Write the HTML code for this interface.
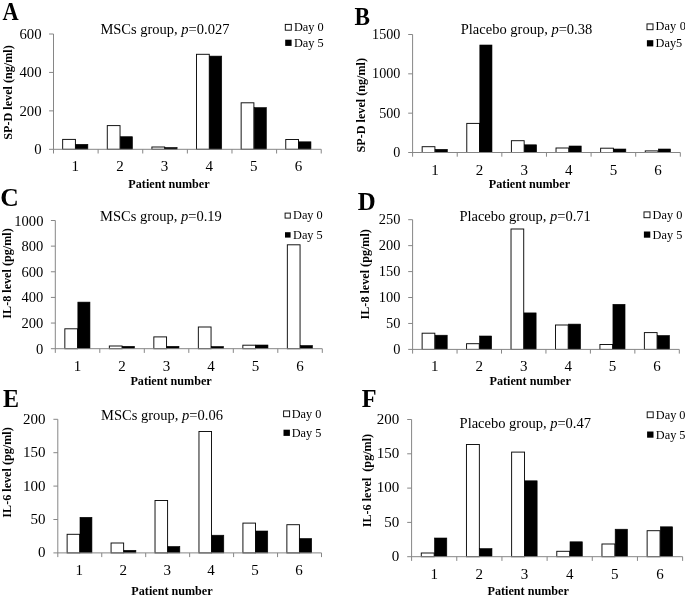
<!DOCTYPE html>
<html lang="en"><head><meta charset="utf-8"><title>Figure</title>
<style>
html,body{margin:0;padding:0;background:#fff;}
body{width:685px;height:598px;overflow:hidden;}
svg{display:block;will-change:transform;}
text{font-family:"Liberation Serif", "Times New Roman", serif;fill:#000;}
.b{font-weight:bold;}
.ax{stroke:#868686;stroke-width:1;fill:none;}
.w{fill:#fff;stroke:#0a0a0a;stroke-width:0.95;}
.k{fill:#000;stroke:#000;stroke-width:0.6;}
</style></head><body>
<svg width="685" height="598" viewBox="0 0 685 598">
<g id="panel-A">
<text transform="translate(41.60 154.30) scale(0.985 1)" font-size="15" text-anchor="end">0</text>
<text transform="translate(41.60 115.87) scale(0.985 1)" font-size="15" text-anchor="end">200</text>
<text transform="translate(41.60 77.43) scale(0.985 1)" font-size="15" text-anchor="end">400</text>
<text transform="translate(41.60 39.00) scale(0.985 1)" font-size="15" text-anchor="end">600</text>
<rect class="w" x="62.66" y="139.40" width="12.75" height="9.90"/><rect class="k" x="75.71" y="144.30" width="12.15" height="5.00"/>
<rect class="w" x="107.28" y="125.60" width="12.75" height="23.70"/><rect class="k" x="120.33" y="136.70" width="12.15" height="12.60"/>
<rect class="w" x="151.90" y="147.00" width="12.75" height="2.30"/><rect class="k" x="164.95" y="147.50" width="12.15" height="1.80"/>
<rect class="w" x="196.52" y="54.30" width="12.75" height="95.00"/><rect class="k" x="209.57" y="56.10" width="12.15" height="93.20"/>
<rect class="w" x="241.14" y="102.80" width="12.75" height="46.50"/><rect class="k" x="254.19" y="107.60" width="12.15" height="41.70"/>
<rect class="w" x="285.76" y="139.50" width="12.75" height="9.80"/><rect class="k" x="298.81" y="141.80" width="12.15" height="7.50"/>
<path class="ax" d="M53.50 34.00V149.30 M49.10 149.30H321.22 M49.10 110.87H53.50 M49.10 72.43H53.50 M49.10 34.00H53.50 M53.50 149.30V153.50 M98.12 149.30V153.50 M142.74 149.30V153.50 M187.36 149.30V153.50 M231.98 149.30V153.50 M276.60 149.30V153.50 M321.22 149.30V153.50"/>
<text x="75.31" y="170.80" font-size="15" text-anchor="middle">1</text><text x="119.93" y="170.80" font-size="15" text-anchor="middle">2</text><text x="164.55" y="170.80" font-size="15" text-anchor="middle">3</text><text x="209.17" y="170.80" font-size="15" text-anchor="middle">4</text><text x="253.79" y="170.80" font-size="15" text-anchor="middle">5</text><text x="298.41" y="170.80" font-size="15" text-anchor="middle">6</text>
<text class="b" x="169.00" y="188.00" font-size="12.15" text-anchor="middle">Patient number</text>
<text class="b" transform="translate(11.80 92.50) rotate(-90)" font-size="12.15" text-anchor="middle" xml:space="preserve">SP-D level (ng/ml)</text>
<text x="164.90" y="34.00" font-size="14.5" text-anchor="middle" xml:space="preserve">MSCs group, <tspan font-style="italic">p</tspan>=0.027</text>
<rect class="w" x="285.30" y="24.40" width="6.00" height="5.80"/><text x="293.90" y="30.60" font-size="12.3" word-spacing="0">Day 0</text>
<rect x="285.20" y="39.70" width="6.40" height="6.20" fill="#000"/><text x="293.90" y="46.60" font-size="12.3">Day 5</text>
<text class="b" transform="translate(2.50 20.40) scale(0.890 1)" font-size="25.1">A</text>
</g>
<g id="panel-B">
<text transform="translate(400.30 157.10) scale(0.940 1)" font-size="15" text-anchor="end">0</text>
<text transform="translate(400.30 117.77) scale(0.940 1)" font-size="15" text-anchor="end">500</text>
<text transform="translate(400.30 78.43) scale(0.940 1)" font-size="15" text-anchor="end">1000</text>
<text transform="translate(400.30 39.10) scale(0.940 1)" font-size="15" text-anchor="end">1500</text>
<rect class="w" x="422.16" y="146.70" width="12.75" height="5.80"/><rect class="k" x="435.21" y="149.30" width="12.15" height="3.20"/>
<rect class="w" x="466.78" y="123.40" width="12.75" height="29.10"/><rect class="k" x="479.83" y="45.00" width="12.15" height="107.50"/>
<rect class="w" x="511.40" y="140.70" width="12.75" height="11.80"/><rect class="k" x="524.45" y="144.80" width="12.15" height="7.70"/>
<rect class="w" x="556.02" y="148.00" width="12.75" height="4.50"/><rect class="k" x="569.07" y="146.00" width="12.15" height="6.50"/>
<rect class="w" x="600.64" y="148.20" width="12.75" height="4.30"/><rect class="k" x="613.69" y="149.00" width="12.15" height="3.50"/>
<rect class="w" x="645.26" y="150.90" width="12.75" height="1.60"/><rect class="k" x="658.31" y="149.00" width="12.15" height="3.50"/>
<path class="ax" d="M412.60 34.50V152.50 M408.20 152.50H680.32 M408.20 113.17H412.60 M408.20 73.83H412.60 M408.20 34.50H412.60 M412.60 152.50V156.70 M457.22 152.50V156.70 M501.84 152.50V156.70 M546.46 152.50V156.70 M591.08 152.50V156.70 M635.70 152.50V156.70 M680.32 152.50V156.70"/>
<text x="434.91" y="174.60" font-size="15" text-anchor="middle">1</text><text x="479.53" y="174.60" font-size="15" text-anchor="middle">2</text><text x="524.15" y="174.60" font-size="15" text-anchor="middle">3</text><text x="568.77" y="174.60" font-size="15" text-anchor="middle">4</text><text x="613.39" y="174.60" font-size="15" text-anchor="middle">5</text><text x="658.01" y="174.60" font-size="15" text-anchor="middle">6</text>
<text class="b" x="529.50" y="188.40" font-size="12.15" text-anchor="middle">Patient number</text>
<text class="b" transform="translate(365.00 105.20) rotate(-90)" font-size="12.15" text-anchor="middle" xml:space="preserve">SP-D level (ng/ml)</text>
<text x="526.50" y="34.00" font-size="14.5" text-anchor="middle" xml:space="preserve">Placebo group, <tspan font-style="italic">p</tspan>=0.38</text>
<rect class="w" x="647.00" y="23.90" width="6.00" height="5.80"/><text x="655.60" y="30.30" font-size="12.3" word-spacing="0.7">Day 0</text>
<rect x="646.90" y="40.20" width="6.40" height="6.20" fill="#000"/><text x="655.60" y="47.00" font-size="12.3">Day5</text>
<text class="b" transform="translate(354.60 24.70) scale(0.930 1)" font-size="25.0">B</text>
</g>
<g id="panel-C">
<text transform="translate(43.40 353.70) scale(0.970 1)" font-size="15" text-anchor="end">0</text>
<text transform="translate(43.40 328.06) scale(0.970 1)" font-size="15" text-anchor="end">200</text>
<text transform="translate(43.40 302.42) scale(0.970 1)" font-size="15" text-anchor="end">400</text>
<text transform="translate(43.40 276.78) scale(0.970 1)" font-size="15" text-anchor="end">600</text>
<text transform="translate(43.40 251.14) scale(0.970 1)" font-size="15" text-anchor="end">800</text>
<text transform="translate(43.40 225.50) scale(0.970 1)" font-size="15" text-anchor="end">1000</text>
<rect class="w" x="64.84" y="328.80" width="12.71" height="19.90"/><rect class="k" x="77.85" y="302.10" width="12.11" height="46.60"/>
<rect class="w" x="109.34" y="346.00" width="12.71" height="2.70"/><rect class="k" x="122.35" y="346.30" width="12.11" height="2.40"/>
<rect class="w" x="153.84" y="336.90" width="12.71" height="11.80"/><rect class="k" x="166.85" y="346.30" width="12.11" height="2.40"/>
<rect class="w" x="198.34" y="327.00" width="12.71" height="21.70"/><rect class="k" x="211.35" y="346.50" width="12.11" height="2.20"/>
<rect class="w" x="242.84" y="345.20" width="12.71" height="3.50"/><rect class="k" x="255.85" y="345.00" width="12.11" height="3.70"/>
<rect class="w" x="287.34" y="244.80" width="12.71" height="103.90"/><rect class="k" x="300.35" y="345.50" width="12.11" height="3.20"/>
<path class="ax" d="M55.30 220.50V348.70 M50.90 348.70H322.30 M50.90 323.06H55.30 M50.90 297.42H55.30 M50.90 271.78H55.30 M50.90 246.14H55.30 M50.90 220.50H55.30 M55.30 348.70V352.90 M99.80 348.70V352.90 M144.30 348.70V352.90 M188.80 348.70V352.90 M233.30 348.70V352.90 M277.80 348.70V352.90 M322.30 348.70V352.90"/>
<text x="77.55" y="371.00" font-size="15" text-anchor="middle">1</text><text x="122.05" y="371.00" font-size="15" text-anchor="middle">2</text><text x="166.55" y="371.00" font-size="15" text-anchor="middle">3</text><text x="211.05" y="371.00" font-size="15" text-anchor="middle">4</text><text x="255.55" y="371.00" font-size="15" text-anchor="middle">5</text><text x="300.05" y="371.00" font-size="15" text-anchor="middle">6</text>
<text class="b" x="171.10" y="385.00" font-size="12.15" text-anchor="middle">Patient number</text>
<text class="b" transform="translate(11.00 273.50) rotate(-90)" font-size="12.15" text-anchor="middle" xml:space="preserve">IL-8 level (pg/ml)</text>
<text x="160.90" y="220.50" font-size="14.5" text-anchor="middle" xml:space="preserve">MSCs group, <tspan font-style="italic">p</tspan>=0.19</text>
<rect class="w" x="285.10" y="213.10" width="5.20" height="5.00"/><text x="293.00" y="219.20" font-size="12.3" word-spacing="0">Day 0</text>
<rect x="285.00" y="232.20" width="5.60" height="5.40" fill="#000"/><text x="293.00" y="239.00" font-size="12.3">Day 5</text>
<text class="b" transform="translate(0.20 206.30) scale(1.000 1)" font-size="25.6">C</text>
</g>
<g id="panel-D">
<text transform="translate(400.40 354.00) scale(0.960 1)" font-size="15" text-anchor="end">0</text>
<text transform="translate(400.40 328.06) scale(0.960 1)" font-size="15" text-anchor="end">50</text>
<text transform="translate(400.40 302.12) scale(0.960 1)" font-size="15" text-anchor="end">100</text>
<text transform="translate(400.40 276.18) scale(0.960 1)" font-size="15" text-anchor="end">150</text>
<text transform="translate(400.40 250.24) scale(0.960 1)" font-size="15" text-anchor="end">200</text>
<text transform="translate(400.40 224.30) scale(0.960 1)" font-size="15" text-anchor="end">250</text>
<rect class="w" x="422.12" y="333.20" width="12.70" height="16.20"/><rect class="k" x="435.12" y="335.20" width="12.10" height="14.20"/>
<rect class="w" x="466.57" y="343.70" width="12.70" height="5.70"/><rect class="k" x="479.57" y="336.00" width="12.10" height="13.40"/>
<rect class="w" x="511.02" y="229.00" width="12.70" height="120.40"/><rect class="k" x="524.02" y="312.90" width="12.10" height="36.50"/>
<rect class="w" x="555.48" y="325.00" width="12.70" height="24.40"/><rect class="k" x="568.48" y="324.10" width="12.10" height="25.30"/>
<rect class="w" x="599.93" y="344.50" width="12.70" height="4.90"/><rect class="k" x="612.93" y="304.30" width="12.10" height="45.10"/>
<rect class="w" x="644.38" y="332.60" width="12.70" height="16.80"/><rect class="k" x="657.38" y="335.50" width="12.10" height="13.90"/>
<path class="ax" d="M412.60 219.70V349.40 M408.20 349.40H679.30 M408.20 323.46H412.60 M408.20 297.52H412.60 M408.20 271.58H412.60 M408.20 245.64H412.60 M408.20 219.70H412.60 M412.60 349.40V353.60 M457.05 349.40V353.60 M501.50 349.40V353.60 M545.95 349.40V353.60 M590.40 349.40V353.60 M634.85 349.40V353.60 M679.30 349.40V353.60"/>
<text x="434.83" y="371.00" font-size="15" text-anchor="middle">1</text><text x="479.28" y="371.00" font-size="15" text-anchor="middle">2</text><text x="523.73" y="371.00" font-size="15" text-anchor="middle">3</text><text x="568.18" y="371.00" font-size="15" text-anchor="middle">4</text><text x="612.62" y="371.00" font-size="15" text-anchor="middle">5</text><text x="657.08" y="371.00" font-size="15" text-anchor="middle">6</text>
<text class="b" x="530.20" y="384.70" font-size="12.15" text-anchor="middle">Patient number</text>
<text class="b" transform="translate(369.20 274.30) rotate(-90)" font-size="12.15" text-anchor="middle" xml:space="preserve">IL-8 level (pg/ml)</text>
<text x="525.10" y="220.50" font-size="14.5" text-anchor="middle" xml:space="preserve">Placebo group, <tspan font-style="italic">p</tspan>=0.71</text>
<rect class="w" x="644.00" y="211.90" width="6.00" height="5.80"/><text x="652.60" y="218.90" font-size="12.3" word-spacing="0">Day 0</text>
<rect x="643.90" y="231.50" width="6.40" height="6.20" fill="#000"/><text x="652.60" y="239.00" font-size="12.3">Day 5</text>
<text class="b" transform="translate(357.80 210.10) scale(1.000 1)" font-size="24.8">D</text>
</g>
<g id="panel-E">
<text transform="translate(45.40 557.30) scale(1.000 1)" font-size="15" text-anchor="end">0</text>
<text transform="translate(45.40 523.90) scale(1.000 1)" font-size="15" text-anchor="end">50</text>
<text transform="translate(45.40 490.50) scale(1.000 1)" font-size="15" text-anchor="end">100</text>
<text transform="translate(45.40 457.10) scale(1.000 1)" font-size="15" text-anchor="end">150</text>
<text transform="translate(45.40 423.70) scale(1.000 1)" font-size="15" text-anchor="end">200</text>
<rect class="w" x="67.12" y="534.30" width="12.56" height="18.60"/><rect class="k" x="79.98" y="517.30" width="11.96" height="35.60"/>
<rect class="w" x="111.07" y="543.00" width="12.56" height="9.90"/><rect class="k" x="123.93" y="550.30" width="11.96" height="2.60"/>
<rect class="w" x="155.02" y="500.50" width="12.56" height="52.40"/><rect class="k" x="167.88" y="546.50" width="11.96" height="6.40"/>
<rect class="w" x="198.97" y="431.50" width="12.56" height="121.40"/><rect class="k" x="211.83" y="535.20" width="11.96" height="17.70"/>
<rect class="w" x="242.92" y="523.10" width="12.56" height="29.80"/><rect class="k" x="255.78" y="531.00" width="11.96" height="21.90"/>
<rect class="w" x="286.87" y="524.70" width="12.56" height="28.20"/><rect class="k" x="299.73" y="538.50" width="11.96" height="14.40"/>
<path class="ax" d="M57.80 419.30V552.90 M53.40 552.90H321.50 M53.40 519.50H57.80 M53.40 486.10H57.80 M53.40 452.70H57.80 M53.40 419.30H57.80 M57.80 552.90V557.10 M101.75 552.90V557.10 M145.70 552.90V557.10 M189.65 552.90V557.10 M233.60 552.90V557.10 M277.55 552.90V557.10 M321.50 552.90V557.10"/>
<text x="79.28" y="575.30" font-size="15" text-anchor="middle">1</text><text x="123.23" y="575.30" font-size="15" text-anchor="middle">2</text><text x="167.18" y="575.30" font-size="15" text-anchor="middle">3</text><text x="211.12" y="575.30" font-size="15" text-anchor="middle">4</text><text x="255.07" y="575.30" font-size="15" text-anchor="middle">5</text><text x="299.03" y="575.30" font-size="15" text-anchor="middle">6</text>
<text class="b" x="172.00" y="595.00" font-size="12.15" text-anchor="middle">Patient number</text>
<text class="b" transform="translate(11.40 472.50) rotate(-90)" font-size="12.15" text-anchor="middle" xml:space="preserve">IL-6 level (pg/ml)</text>
<text x="162.00" y="420.00" font-size="14.5" text-anchor="middle" xml:space="preserve">MSCs group, <tspan font-style="italic">p</tspan>=0.06</text>
<rect class="w" x="283.60" y="410.90" width="6.00" height="5.80"/><text x="291.70" y="418.20" font-size="12.3" word-spacing="0">Day 0</text>
<rect x="283.50" y="429.70" width="6.40" height="6.20" fill="#000"/><text x="291.70" y="437.00" font-size="12.3">Day 5</text>
<text class="b" transform="translate(3.00 406.80) scale(0.955 1)" font-size="25.2">E</text>
</g>
<g id="panel-F">
<text transform="translate(399.30 560.90) scale(1.000 1)" font-size="15" text-anchor="end">0</text>
<text transform="translate(399.30 526.60) scale(1.000 1)" font-size="15" text-anchor="end">50</text>
<text transform="translate(399.30 492.30) scale(1.000 1)" font-size="15" text-anchor="end">100</text>
<text transform="translate(399.30 458.00) scale(1.000 1)" font-size="15" text-anchor="end">150</text>
<text transform="translate(399.30 423.70) scale(1.000 1)" font-size="15" text-anchor="end">200</text>
<rect class="w" x="421.28" y="553.00" width="12.91" height="3.70"/><rect class="k" x="434.49" y="538.00" width="12.31" height="18.70"/>
<rect class="w" x="466.45" y="444.50" width="12.91" height="112.20"/><rect class="k" x="479.66" y="548.60" width="12.31" height="8.10"/>
<rect class="w" x="511.62" y="452.10" width="12.91" height="104.60"/><rect class="k" x="524.83" y="480.80" width="12.31" height="75.90"/>
<rect class="w" x="556.79" y="551.30" width="12.91" height="5.40"/><rect class="k" x="570.00" y="541.80" width="12.31" height="14.90"/>
<rect class="w" x="601.96" y="544.00" width="12.91" height="12.70"/><rect class="k" x="615.16" y="529.20" width="12.31" height="27.50"/>
<rect class="w" x="647.13" y="530.70" width="12.91" height="26.00"/><rect class="k" x="660.34" y="526.80" width="12.31" height="29.90"/>
<path class="ax" d="M411.60 419.50V556.70 M407.20 556.70H682.62 M407.20 522.40H411.60 M407.20 488.10H411.60 M407.20 453.80H411.60 M407.20 419.50H411.60 M411.60 556.70V560.90 M456.77 556.70V560.90 M501.94 556.70V560.90 M547.11 556.70V560.90 M592.28 556.70V560.90 M637.45 556.70V560.90 M682.62 556.70V560.90"/>
<text x="434.19" y="578.50" font-size="15" text-anchor="middle">1</text><text x="479.36" y="578.50" font-size="15" text-anchor="middle">2</text><text x="524.53" y="578.50" font-size="15" text-anchor="middle">3</text><text x="569.70" y="578.50" font-size="15" text-anchor="middle">4</text><text x="614.87" y="578.50" font-size="15" text-anchor="middle">5</text><text x="660.04" y="578.50" font-size="15" text-anchor="middle">6</text>
<text class="b" x="528.20" y="594.60" font-size="12.15" text-anchor="middle">Patient number</text>
<text class="b" transform="translate(371.30 480.60) rotate(-90)" font-size="12.15" text-anchor="middle" xml:space="preserve">IL-6 level  (pg/ml)</text>
<text x="525.30" y="428.00" font-size="14.5" text-anchor="middle" xml:space="preserve">Placebo group, <tspan font-style="italic">p</tspan>=0.47</text>
<rect class="w" x="647.20" y="411.90" width="6.00" height="5.80"/><text x="655.80" y="418.90" font-size="12.3" word-spacing="0">Day 0</text>
<rect x="647.10" y="431.50" width="6.40" height="6.20" fill="#000"/><text x="655.80" y="439.00" font-size="12.3">Day 5</text>
<text class="b" transform="translate(361.70 407.00) scale(0.955 1)" font-size="25.4">F</text>
</g>
</svg>
</body></html>
